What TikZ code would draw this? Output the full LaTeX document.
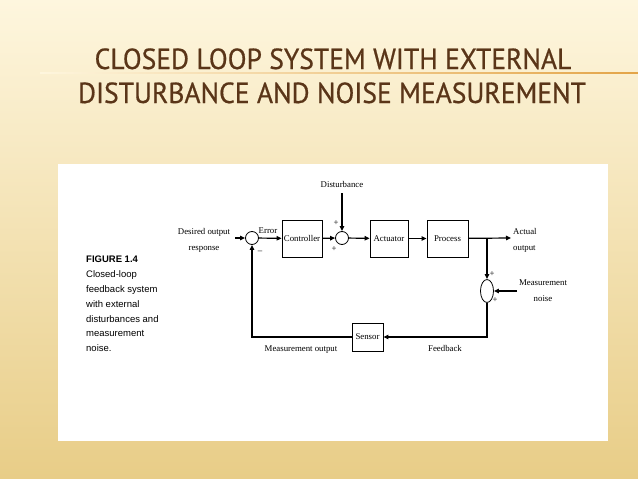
\documentclass[tikz,border=0pt]{standalone}
\usepackage{fontspec}
\setmainfont{Liberation Serif}
\newfontfamily\titlefont[FakeStretch=0.95,FakeBold=0.6]{PT Sans}
\newfontfamily\capfont{Liberation Sans}
\usetikzlibrary{shapes.geometric,arrows.meta}
\definecolor{bgtop}{HTML}{FEF6DE}
\definecolor{bgmid}{HTML}{FAE8B9}
\definecolor{bgbot}{HTML}{E8CD87}
\definecolor{titlebrown}{HTML}{5A3518}
\definecolor{lineor}{HTML}{E3A448}
\newcommand{\dgfont}{\fontsize{8.8}{16}\selectfont}
\begin{document}
\begin{tikzpicture}[x=1pt,y=-1pt,
    blk/.style={draw, line width=0.8pt, minimum width=40pt, minimum height=37pt, inner sep=0pt, font=\dgfont},
    sumc/.style={draw, circle, line width=0.8pt, minimum size=13pt, inner sep=0pt},
    lbl/.style={font=\dgfont, inner sep=0pt, align=center},
    sig/.style={line width=1.2pt},
    >={Triangle[length=5pt,width=4.5pt]}]
  \useasboundingbox (0,0) rectangle (638,479);
  % slide background
  \shade[top color=bgtop, middle color=bgmid, bottom color=bgbot] (0,0) rectangle (638,479);
  \shade[left color=bgtop, right color=lineor] (40,72.6) rectangle (638,73.8);
  \node[anchor=base, font=\titlefont\fontsize{29}{29}\selectfont, text=titlebrown, inner sep=0pt] (t1) at (333,69) {CLOSED LOOP SYSTEM WITH EXTERNAL};
  \node[anchor=base, font=\titlefont\fontsize{29}{29}\selectfont, text=titlebrown, inner sep=0pt] (t2) at (332,103) {DISTURBANCE AND NOISE MEASUREMENT};
  \fill[white] (58,164) rectangle (608,441);
  % caption
  \node[anchor=north west, align=left, inner sep=0pt, font=\capfont\fontsize{9.5}{14.8}\selectfont] (cap) at (86,256)
    {\textbf{FIGURE 1.4}\\Closed-loop\\feedback system\\with external\\disturbances and\\measurement\\noise.};
  % blocks
  \node[sumc] (s1) at (252,238) {};
  \node[blk] (ctrl) at (302,238.5) {Controller};
  \node[sumc] (s2) at (342,238) {};
  \node[blk, minimum width=38pt] (act) at (389,238.5) {Actuator};
  \node[blk, minimum width=41pt] (proc) at (447.5,238.5) {Process};
  \node[draw, ellipse, line width=0.8pt, minimum width=13pt, minimum height=23pt, inner sep=0pt] (s3) at (487,291) {};
  \node[blk, minimum width=31pt, minimum height=28pt] (sens) at (367.5,337) {Sensor};
  \coordinate (in) at (235,238);
  \coordinate (dist) at (342,193);
  \coordinate (br) at (487,238);
  \coordinate (out) at (511,238);
  \coordinate (nz) at (517,291);
  % signals
  \draw[sig,->] (in) -- (s1);
  \draw[sig,->] (s1) -- (ctrl);
  \draw[sig,->] (ctrl) -- (s2);
  \draw[sig,->] (dist) -- (s2);
  \draw[sig,->] (s2) -- (act);
  \draw[sig,->] (act) -- (proc);
  \draw[sig,->] (proc) -- (out);
  \draw[sig,->] (br) -- (s3);
  \draw[sig,->] (nz) -- (s3);
  \draw[sig,->] (s3) |- (sens);
  \draw[sig,->] (sens) -| (s1);
  % labels
  \node[lbl] (des) at (204,240) {Desired output\\response};
  \node[lbl, anchor=base] (err) at (268,233) {Error};
  \node[lbl] (m1) at (260,252) {--};
  \node[lbl] (p1) at (336,223) {+};
  \node[lbl] (p2) at (334,249) {+};
  \node[lbl] (dlab) at (342,184) {Disturbance};
  \node[lbl, align=left, anchor=west] (aout) at (513,240) {Actual\\output};
  \node[lbl] (p3) at (492,274) {+};
  \node[lbl] (p4) at (495,300) {+};
  \node[lbl] (nlab) at (543,291) {Measurement\\noise};
  \node[lbl, anchor=base] (fblab) at (445,351) {Feedback};
  \node[lbl, anchor=base] (molab) at (301,351) {Measurement output};
\end{tikzpicture}
\end{document}
